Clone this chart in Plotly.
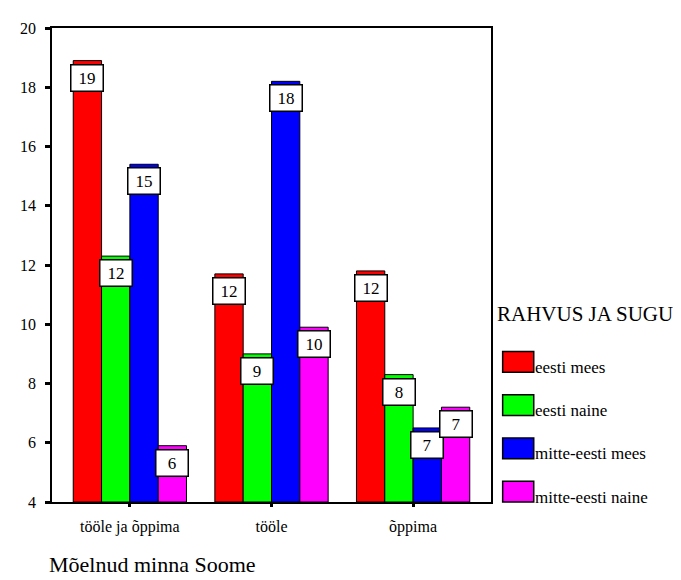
import plotly.graph_objects as go

categories = ["tööle ja õppima", "tööle", "õppima"]
series_names = ["eesti mees", "eesti naine", "mitte-eesti mees", "mitte-eesti naine"]
eesti_mees = [18.9, 11.7, 11.8]
eesti_naine = [12.3, 9.0, 8.3]
mitte_eesti_mees = [15.4, 18.2, 6.5]
mitte_eesti_naine = [5.9, 9.9, 7.2]
labels = [[19, 12, 12], [12, 9, 8], [15, 18, 7], [6, 10, 7]]
y_ticks = [4, 6, 8, 10, 12, 14, 16, 18, 20]
colors = ["#FF0000", "#00FF00", "#0000FF", "#FF00FF"]

series = [eesti_mees, eesti_naine, mitte_eesti_mees, mitte_eesti_naine]
FONT = "Liberation Serif"
n = len(series)
bar_w = 0.8 / n
xs = list(range(len(categories)))

# page body has an 8px margin: compensate
OFF = 8
W, H = 681 - OFF, 580 - OFF
ml, mt = 39 - OFF, 20 - OFF
pw, ph = 491 - 39, 502 - 20
mr, mb = W - ml - pw, H - mt - ph


def px(xp):
    return (xp - 39) / pw


def py(yp):
    return 1 - (yp - 20) / ph


fig = go.Figure()
annotations = []
for j, (name, vals) in enumerate(zip(series_names, series)):
    off = -0.4 + j * bar_w
    fig.add_trace(go.Bar(
        x=xs, y=[v - 4 for v in vals], base=4, name=name,
        width=bar_w, offset=off,
        marker=dict(color=colors[j], line=dict(color="black", width=1)),
        showlegend=False, hoverinfo="skip",
    ))
    for i, v in enumerate(vals):
        annotations.append(dict(
            x=xs[i] + off + bar_w / 2, y=v, xref="x", yref="y",
            text=str(labels[j][i]), showarrow=False,
            yanchor="top", yshift=-3,
            font=dict(family=FONT, size=17, color="black"),
            bgcolor="white", bordercolor="black", borderwidth=1.5,
            borderpad=1.5, width=28, height=22,
        ))

annotations.append(dict(
    x=px(495), y=py(311), xref="paper", yref="paper", text="RAHVUS JA SUGU",
    showarrow=False, xanchor="left", yanchor="middle",
    font=dict(family=FONT, size=21, color="black"),
))

shapes = []
for j, name in enumerate(series_names):
    y0 = 349 + j * 44
    shapes.append(dict(type="rect", xref="paper", yref="paper",
                       x0=px(503), x1=px(535), y0=py(y0), y1=py(y0 + 21),
                       fillcolor=colors[j], line=dict(color="black", width=1.5)))
    annotations.append(dict(x=px(534), y=py(y0 + 16), xref="paper", yref="paper",
                            text=name, showarrow=False, xanchor="left", yanchor="middle",
                            font=dict(family=FONT, size=17, color="black")))

annotations.append(dict(x=px(34), y=py(580), xref="paper", yref="paper",
                        text="Mõelnud minna Soome", showarrow=False,
                        xanchor="left", yanchor="bottom",
                        font=dict(family=FONT, size=22, color="black")))

fig.update_layout(
    barmode="overlay",
    width=W, height=H,
    margin=dict(l=ml, r=mr, t=mt, b=mb, pad=0),
    paper_bgcolor="white", plot_bgcolor="white",
    annotations=annotations, shapes=shapes,
    font=dict(family=FONT, color="black"),
    xaxis=dict(range=[-0.55, 2.55], tickvals=xs, ticktext=categories,
               showgrid=False, zeroline=False, showline=True, linecolor="black",
               linewidth=1.5, mirror=True, ticks="outside", ticklen=3, tickwidth=3,
               tickcolor="black", ticklabelstandoff=6,
               tickfont=dict(family=FONT, size=16, color="black")),
    yaxis=dict(range=[4, 20], tickvals=y_ticks, showgrid=False, zeroline=False,
               showline=True, linecolor="black", linewidth=1.5, mirror=True,
               ticks="outside", ticklen=5, tickwidth=3, tickcolor="black",
               ticklabelstandoff=6,
               tickfont=dict(family=FONT, size=16, color="black")),
)

fig.write_html("out.html")
